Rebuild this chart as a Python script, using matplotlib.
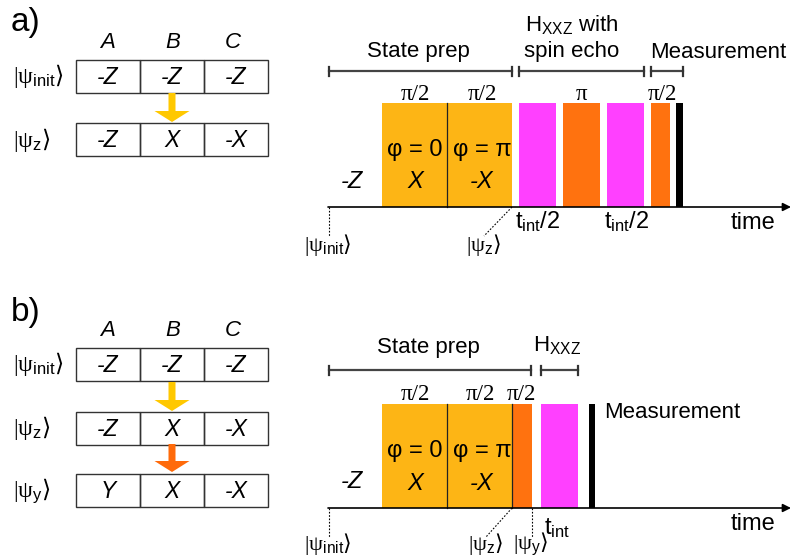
import matplotlib
matplotlib.use("Agg")
import matplotlib.pyplot as plt
from matplotlib.patches import Rectangle, FancyArrow

plt.rcParams['font.family'] = ['Liberation Sans', 'DejaVu Sans']
plt.rcParams['mathtext.fontset'] = 'custom'
plt.rcParams['mathtext.rm'] = 'Liberation Serif'
plt.rcParams['mathtext.sf'] = 'Liberation Sans'
plt.rcParams['mathtext.it'] = 'Liberation Serif:italic'
plt.rcParams['mathtext.cal'] = 'DejaVu Sans'

YEL = '#FDB515'
ORG = '#FF720F'
MAG = '#FF40FF'
BLK = '#000000'
AYEL = '#FFC800'
AORG = '#FF6A0A'

# ---------------- data ----------------
qubits = ['A', 'B', 'C']
states_a = [['-Z', '-Z', '-Z'], ['-Z', 'X', '-X']]
state_labels_a = [r'$|\mathrm{ψ}_{\mathsf{init}}\mathcal{⟩}$', r'$|\mathrm{ψ}_{\mathsf{z}}\mathcal{⟩}$']
states_b = [['-Z', '-Z', '-Z'], ['-Z', 'X', '-X'], ['Y', 'X', '-X']]
state_labels_b = [r'$|\mathrm{ψ}_{\mathsf{init}}\mathcal{⟩}$', r'$|\mathrm{ψ}_{\mathsf{z}}\mathcal{⟩}$',
                  r'$|\mathrm{ψ}_{\mathsf{y}}\mathcal{⟩}$']

# pulses (start, end, colour) along the time axis
pulses_a = [(382, 447, YEL), (447, 512, YEL), (519, 556, MAG), (563, 600, ORG),
            (607, 644, MAG), (651, 670, ORG), (676, 683, BLK)]
pulses_b = [(382, 447, YEL), (447, 512, YEL), (512, 532, ORG), (541, 578, MAG), (589, 595, BLK)]
dividers_a = [447]
dividers_b = [447, 512]

angles_a = [(415, r'π/2'), (482, r'π/2'), (582, r'π'), (662, r'π/2')]
angles_b = [(415, r'π/2'), (480, r'π/2'), (521, r'π/2')]

brackets_a = [(329, 512), (519, 644), (651, 683)]
brackets_b = [(329, 531), (541, 578)]

fig = plt.figure(figsize=(7.91, 5.60), dpi=100)
ax = fig.add_axes([0, 0, 1, 1])
ax.set_xlim(0, 791)
ax.set_ylim(560, 0)
ax.axis('off')

FS = 16


def draw_table(y_rows, x0, x1, states, labels, arrows):
    w = (x1 - x0) / 3.0
    h = 33
    for r, (yt, row, lab) in enumerate(zip(y_rows, states, labels)):
        for c in range(3):
            ax.add_patch(Rectangle((x0 + c * w, yt), w, h, fill=False,
                                   edgecolor='#333333', lw=1.0))
            ax.text(x0 + (c + 0.5) * w, yt + h / 2 + 1, row[c], fontsize=16.5,
                    style='italic', ha='center', va='center')
        ax.text(13, yt + h / 2, lab, fontsize=17, ha='left', va='center')
    for (ya, yb, col) in arrows:
        ax.add_patch(FancyArrow(x0 + 1.5 * w, ya, 0, yb - ya, width=7,
                                head_width=35, head_length=11,
                                length_includes_head=True, color=col, lw=0))


def draw_timeline(y0, pulses, dividers, angles, brackets, yb):
    top = y0 - 104
    for (s, e, col) in pulses:
        ax.add_patch(Rectangle((s, top), e - s, y0 - top, facecolor=col, edgecolor='none'))
    for d in dividers:
        ax.plot([d, d], [top, y0], color='#222222', lw=0.9)
    ax.annotate('', xy=(791, y0), xytext=(328, y0),
                arrowprops=dict(arrowstyle='-|>', color='black', lw=1.2,
                                mutation_scale=12, shrinkA=0, shrinkB=0))
    for (x, t) in angles:
        ax.text(x, top - 9, t, fontsize=16.5, family='Liberation Serif',
                ha='center', va='center')
    for (a, b) in brackets:
        ax.plot([a, b], [yb, yb], color='#444444', lw=1.6)
        for xx in (a, b):
            ax.plot([xx, xx], [yb - 4.5, yb + 4.5], color='#333333', lw=1.6)
    ax.text(352, y0 - 26, '-Z', fontsize=FS + 1, style='italic', ha='center', va='center')
    ax.text(415, y0 - 57, 'φ = 0', fontsize=FS + 1, ha='center', va='center')
    ax.text(415, y0 - 25, 'X', fontsize=FS + 1, style='italic', ha='center', va='center')
    ax.text(482, y0 - 57, 'φ = π', fontsize=FS + 1, ha='center', va='center')
    ax.text(482, y0 - 25, '-X', fontsize=FS + 1, style='italic', ha='center', va='center')
    ax.text(753, y0 + 16, 'time', fontsize=FS + 1, ha='center', va='center')


# ---------------- panel a ----------------
ax.text(11, 23, 'a)', fontsize=24, ha='left', va='center')
for x, q in zip([108, 173, 233], qubits):
    ax.text(x, 43, q, fontsize=16, style='italic', ha='center', va='center')
draw_table([60, 123], 76, 268, states_a, state_labels_a, [(93, 122, AYEL)])

draw_timeline(207, pulses_a, dividers_a, angles_a, brackets_a, 71)
ax.text(418, 52, 'State prep', fontsize=FS, ha='center', va='center')
ax.text(572, 25, r'H$_{\mathsf{XXZ}}$ with', fontsize=FS, ha='center', va='center')
ax.text(572, 52, 'spin echo', fontsize=FS, ha='center', va='center')
ax.text(718, 52, 'Measurement', fontsize=FS, ha='center', va='center')
ax.text(538, 222, r'$\mathsf{t}_{\mathsf{int}}\mathsf{/2}$', fontsize=FS + 1, ha='center', va='center')
ax.text(627, 222, r'$\mathsf{t}_{\mathsf{int}}\mathsf{/2}$', fontsize=FS + 1, ha='center', va='center')
ax.plot([329, 329], [207, 237], color='black', lw=0.8, ls=(0, (1.5, 1.5)))
ax.plot([512, 484], [207, 236], color='black', lw=0.8, ls=(0, (1.5, 1.5)))
ax.text(328, 245, state_labels_a[0], fontsize=16, ha='center', va='center')
ax.text(484, 245, state_labels_a[1], fontsize=16, ha='center', va='center')

# ---------------- panel b ----------------
ax.text(11, 313, 'b)', fontsize=24, ha='left', va='center')
for x, q in zip([108, 173, 233], qubits):
    ax.text(x, 330, q, fontsize=16, style='italic', ha='center', va='center')
draw_table([348, 412, 474], 76, 268, states_b, state_labels_b,
           [(382, 411, AYEL), (444, 472, AORG)])

draw_timeline(508, pulses_b, dividers_b, angles_b, brackets_b, 370)
ax.text(428, 348, 'State prep', fontsize=FS, ha='center', va='center')
ax.text(557, 345, r'H$_{\mathsf{XXZ}}$', fontsize=FS, ha='center', va='center')
ax.text(604, 413, 'Measurement', fontsize=FS, ha='left', va='center')
ax.text(557, 528, r'$\mathsf{t}_{\mathsf{int}}$', fontsize=FS + 1, ha='center', va='center')
ax.plot([329, 329], [508, 538], color='black', lw=0.8, ls=(0, (1.5, 1.5)))
ax.plot([512, 486], [508, 537], color='black', lw=0.8, ls=(0, (1.5, 1.5)))
ax.plot([532, 532], [508, 537], color='black', lw=0.8, ls=(0, (1.5, 1.5)))
ax.text(328, 544, state_labels_b[0], fontsize=16, ha='center', va='center')
ax.text(486, 544, state_labels_b[1], fontsize=16, ha='center', va='center')
ax.text(531, 544, state_labels_b[2], fontsize=16, ha='center', va='center')

fig.savefig('out.png', dpi=100)
